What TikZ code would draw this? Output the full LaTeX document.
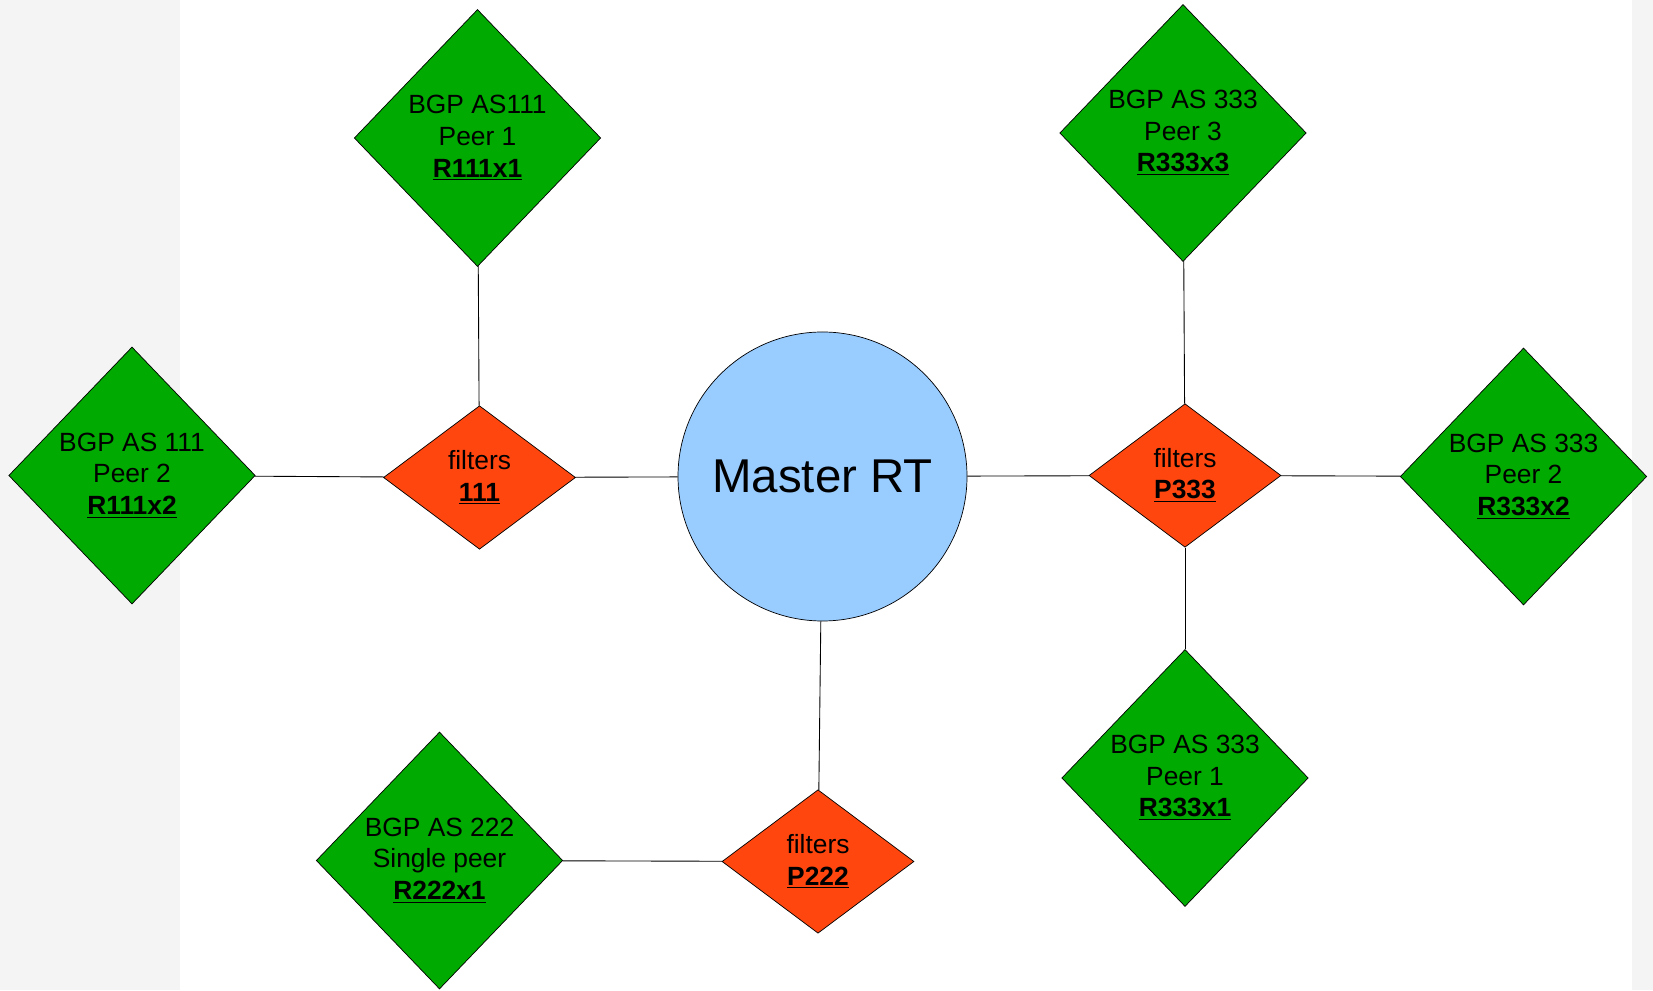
\documentclass[tikz,border=0pt]{standalone}
\usepackage{fontspec}
\setmainfont{Liberation Sans}
\usetikzlibrary{shapes.geometric}

\definecolor{peergreen}{RGB}{0,170,0}
\definecolor{filterred}{RGB}{255,70,15}
\definecolor{masterblue}{RGB}{153,204,255}
\definecolor{pagegray}{RGB}{244,244,244}

\begin{document}
\begin{tikzpicture}[
	peer/.style={diamond, draw, fill=peergreen, inner sep=0pt, align=center,
		minimum width=4.93cm, minimum height=5.14cm, font=\fontsize{15}{18}\selectfont},
	filter/.style={diamond, draw, fill=filterred, inner sep=0pt, align=center,
		minimum width=3.84cm, minimum height=2.87cm, font=\fontsize{15}{18}\selectfont},
	link/.style={line width=0.5pt}]
	\fill [pagegray] (0,0) rectangle (33.06,19.8);
	\fill [white] (3.6,0) rectangle (32.64,19.8);
	\useasboundingbox (0,0) rectangle (33.06,19.8);
	\node [circle, draw, fill=masterblue, minimum size=5.78cm, font=\fontsize{27}{32}\selectfont] (master) at (16.45,10.27) {Master RT};
	\node [filter] (f111) at (9.59,10.25) {filters\\\underline{\textbf{111}}};
	\node [filter] (f333) at (23.70,10.29) {filters\\\underline{\textbf{P333}}};
	\node [filter] (f222) at (16.36,2.57) {filters\\\underline{\textbf{P222}}};
	\node [peer] (r111x1) at (9.55,17.04) {BGP AS111\\Peer 1\\\underline{\textbf{R111x1}}};
	\node [peer] (r111x2) at (2.64,10.29) {BGP AS 111\\Peer 2\\\underline{\textbf{R111x2}}};
	\node [peer] (r333x3) at (23.66,17.14) {BGP AS 333\\Peer 3\\\underline{\textbf{R333x3}}};
	\node [peer] (r333x2) at (30.47,10.27) {BGP AS 333\\Peer 2\\\underline{\textbf{R333x2}}};
	\node [peer] (r333x1) at (23.70,4.24) {BGP AS 333\\Peer 1\\\underline{\textbf{R333x1}}};
	\node [peer] (r222x1) at (8.79,2.59) {BGP AS 222\\Single peer\\\underline{\textbf{R222x1}}};
	\draw [link] (r111x1) -- (f111);
	\draw [link] (r111x2) -- (f111);
	\draw [link] (f111) -- (master);
	\draw [link] (master) -- (f333);
	\draw [link] (f333) -- (r333x2);
	\draw [link] (f333) -- (r333x3);
	\draw [link] (f333) -- (r333x1);
	\draw [link] (master) -- (f222);
	\draw [link] (f222) -- (r222x1);
\end{tikzpicture}
\end{document}
